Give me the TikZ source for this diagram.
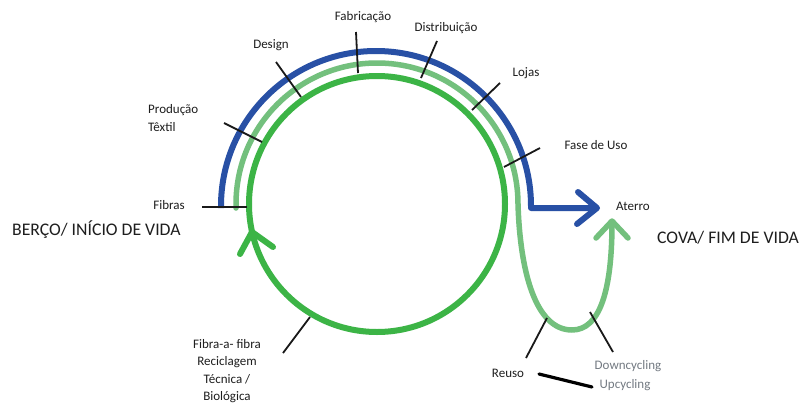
\documentclass[tikz,border=0pt]{standalone}
\usepackage{fontspec}
\setmainfont{Carlito}
\definecolor{blueline}{RGB}{40,80,165}
\definecolor{greenline}{RGB}{60,180,70}
\definecolor{lightgreenline}{RGB}{115,192,125}
\definecolor{txt}{RGB}{30,30,30}
\definecolor{greytxt}{RGB}{115,122,130}
\tikzset{
  bluepath/.style={draw=blueline,line width=6pt,line join=round},
  greenpath/.style={draw=greenline,line width=6pt,line cap=round,line join=round},
  lightpath/.style={draw=lightgreenline,line width=5.5pt,line cap=round,line join=round},
  tick/.style={draw=black!90,line width=1.8pt},
  lab/.style={inner sep=0pt,text=txt,font=\fontsize{13}{17.5}\selectfont},
  greylab/.style={lab,text=greytxt},
  biglab/.style={inner sep=0pt,text=txt,font=\fontsize{17.7}{20}\selectfont},
}
\begin{document}
\begin{tikzpicture}[x=1pt,y=-1pt]
\useasboundingbox (0,0) rectangle (804,407);
\fill[white] (0,0) rectangle (804,407);
\coordinate (c) at (377,204);
% dark green circle
\draw[greenpath] (c) circle[radius=128];
\draw[greenpath] (240,254) -- (252,232) -- (273,247);
% light green arc and S-curve
\draw[lightpath] (236,208) -- (236,204) arc[start angle=180,end angle=360,radius=141]
  .. controls (520,270) and (535,330) .. (572,330)
  .. controls (600,330) and (612,290) .. (612,223);
\draw[lightpath] (596,238) -- (612,221) -- (628,238);
% blue arc and arrow
\draw[bluepath] (221,208) -- (221,206) arc[start angle=180,end angle=360,radius=155] -- (531,208) -- (595,208);
\draw[bluepath,line cap=round] (578,192) -- (597,208) -- (577,224);
% labels
\node[lab,anchor=east] (fibras) at (185,205) {Fibras};
\node[lab,align=left,anchor=west] (prod) at (148,118) {Produção\\Têxtil};
\node[lab] (design) at (271,45) {Design};
\node[lab] (fabr) at (363,17) {Fabricação};
\node[lab] (distr) at (446,28) {Distribuição};
\node[lab] (lojas) at (526,73) {Lojas};
\node[lab] (uso) at (596,145) {Fase de Uso};
\node[lab] (aterro) at (633,206) {Aterro};
\node[lab,align=center] (fibra) at (227,371) {Fibra-a- fibra\\Reciclagem\\Técnica /\\Biológica};
\node[lab] (reuso) at (508,373) {Reuso};
\node[greylab] (down) at (628,366) {Downcycling};
\node[greylab] (up) at (625,385) {Upcycling};
\node[biglab,anchor=west] (berco) at (12,230) {BERÇO/ INÍCIO DE VIDA};
\node[biglab,anchor=west] (cova) at (657,238) {COVA/ FIM DE VIDA};
% tick end points
\coordinate (t1a) at (202,207); \coordinate (t1b) at (247,207);
\coordinate (t2a) at (224,123); \coordinate (t2b) at (262,142);
\coordinate (t3a) at (276,62);  \coordinate (t3b) at (301,97);
\coordinate (t4a) at (356,32);  \coordinate (t4b) at (358,73);
\coordinate (t5a) at (437,41);  \coordinate (t5b) at (421,78);
\coordinate (t6a) at (500,83);  \coordinate (t6b) at (472,110);
\coordinate (t7a) at (540,148); \coordinate (t7b) at (504,167);
\coordinate (t8a) at (310,317); \coordinate (t8b) at (283,353);
\coordinate (t9a) at (547,318); \coordinate (t9b) at (526,358);
\coordinate (t10a) at (590,312); \coordinate (t10b) at (613,352);
\coordinate (sa) at (539,374); \coordinate (sb) at (592,387);
\foreach \i in {1,...,10} {\draw[tick] (t\i a) -- (t\i b);}
\draw[draw=black,line width=3.2pt,line cap=round] (sa) -- (sb);
\end{tikzpicture}
\end{document}
